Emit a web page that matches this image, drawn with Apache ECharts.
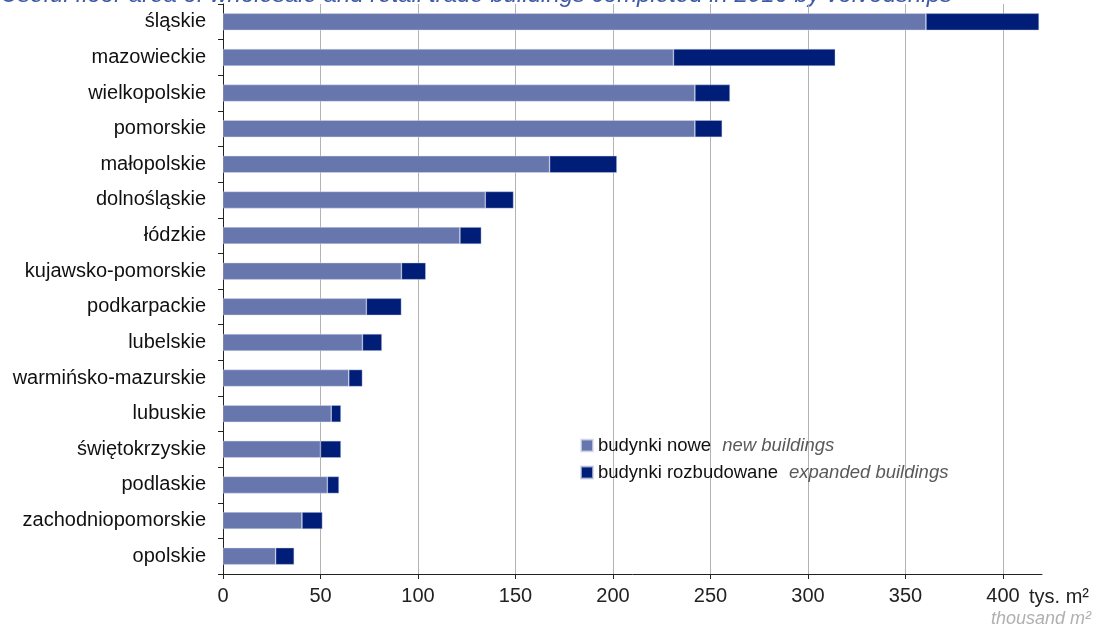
<!DOCTYPE html>
<html>
<head>
<meta charset="utf-8">
<script src="https://cdn.jsdelivr.net/npm/echarts@6/dist/echarts.min.js"></script>
<style>
html,body{margin:0;padding:0;background:#fff;}
#chart{width:1093px;height:626px;}
</style>
</head>
<body>
<div id="chart"></div>
<script>
// województwa (od góry)
var regions = ['śląskie','mazowieckie','wielkopolskie','pomorskie','małopolskie','dolnośląskie','łódzkie',
	'kujawsko-pomorskie','podkarpackie','lubelskie','warmińsko-mazurskie','lubuskie','świętokrzyskie',
	'podlaskie','zachodniopomorskie','opolskie'];
// budynki nowe (tys. m2)
var newBuildings = [360.5, 231, 242, 242, 167.5, 134.5, 121.5, 91.5, 73.5, 71.5, 64.5, 55.5, 50, 53.5, 40.5, 27];
// budynki rozbudowane (tys. m2)
var expandedBuildings = [58, 83, 18, 14, 34.5, 14.5, 11, 12.5, 18, 10, 7, 5, 10.5, 6, 10.5, 9.5];
var xTicks = [0, 50, 100, 150, 200, 250, 300, 350, 400];
var xMax = 420;

var chart = echarts.init(document.getElementById('chart'));

var option = {
	animation: false,
	textStyle: {fontFamily: 'Liberation Sans, Arial, sans-serif'},
	grid: {left: 223, right: 51, top: 4, bottom: 52, containLabel: false},
	legend: {
		orient: 'vertical',
		left: 575,
		top: 431,
		icon: 'rect',
		itemWidth: 12,
		itemHeight: 12,
		itemGap: 8,
		data: ['nowe', 'rozbudowane'],
		formatter: function(name){
			if(name == 'nowe') return '{a|budynki nowe}{b|new buildings}';
			return '{a|budynki rozbudowane}{b|expanded buildings}';
		},
		textStyle: {
			rich: {
				a: {fontSize: 18.5, color: '#111', lineHeight: 21, fontFamily: 'Liberation Sans'},
				b: {fontSize: 18.5, color: '#595959', fontStyle: 'italic', lineHeight: 21, padding: [0, 0, 0, 11], fontFamily: 'Liberation Sans'}
			}
		}
	},
	xAxis: {
		type: 'value',
		min: 0,
		max: xMax,
		interval: 50,
		axisLine: {show: true, lineStyle: {color: '#222', width: 1}},
		axisTick: {show: true, length: 5, lineStyle: {color: '#222'}, customValues: xTicks},
		axisLabel: {fontSize: 20, color: '#222', margin: 12, customValues: xTicks},
		splitLine: {show: true, showMinLine: false, lineStyle: {color: '#b3b3b3', width: 1}}
	},
	yAxis: {
		type: 'category',
		inverse: true,
		data: regions,
		axisLine: {show: true, lineStyle: {color: '#222', width: 1}},
		axisTick: {show: true, length: 5, lineStyle: {color: '#222'}},
		axisLabel: {fontSize: 20, color: '#111', margin: 17}
	},
	series: [
		{
			name: 'nowe',
			type: 'bar',
			stack: 'total',
			barWidth: 17,
			data: newBuildings,
			itemStyle: {color: '#6776ad', borderColor: 'rgba(220,224,240,0.7)', borderWidth: 0.6}
		},
		{
			name: 'rozbudowane',
			type: 'bar',
			stack: 'total',
			barWidth: 17,
			data: expandedBuildings,
			itemStyle: {color: '#001e78', borderColor: 'rgba(200,206,230,0.7)', borderWidth: 0.6}
		}
	],
	graphic: [
		{
			type: 'text',
			x: 952,
			y: 7,
			style: {
				text: 'Useful floor area of wholesale and retail trade buildings completed in 2016 by voivodships',
				fill: '#3f5aa6',
				font: 'italic 24px Liberation Sans',
				align: 'right',
				verticalAlign: 'bottom'
			}
		},
		{
			type: 'text',
			x: 1029,
			y: 597,
			style: {text: 'tys. m²', fill: '#222', font: '20px Liberation Sans', verticalAlign: 'middle'}
		},
		{
			type: 'text',
			x: 1091,
			y: 619,
			style: {text: 'thousand m²', fill: '#b0b0b0', font: 'italic 18px Liberation Sans', align: 'right', verticalAlign: 'middle'}
		}
	]
};

chart.setOption(option);
</script>
</body>
</html>
